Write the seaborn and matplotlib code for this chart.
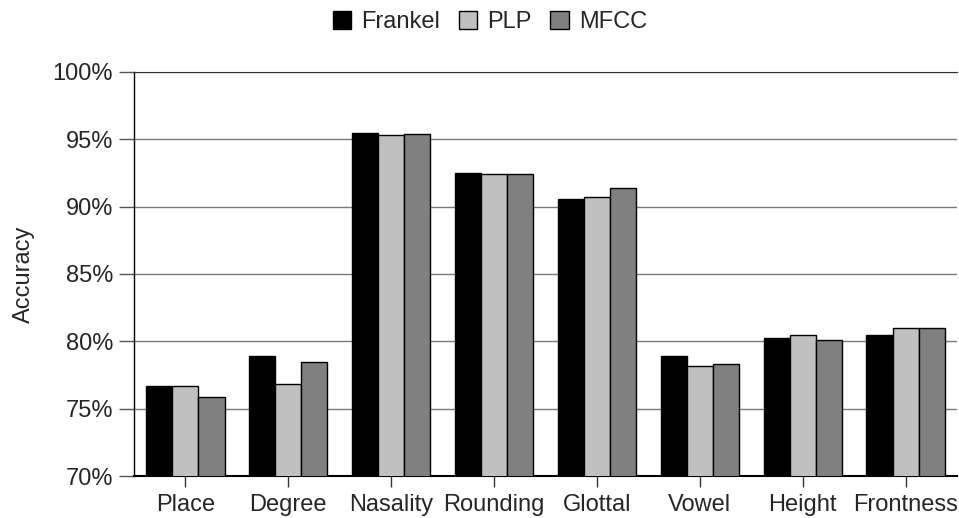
import matplotlib
matplotlib.use("Agg")
import matplotlib.pyplot as plt
import seaborn as sns
import pandas as pd
from matplotlib.ticker import PercentFormatter, MultipleLocator

categories = ["Place", "Degree", "Nasality", "Rounding", "Glottal", "Vowel", "Height", "Frontness"]
methods = ["Frankel", "PLP", "MFCC"]
frankel = [76.7, 78.9, 95.45, 92.5, 90.6, 78.9, 80.25, 80.5]
plp = [76.7, 76.8, 95.3, 92.4, 90.7, 78.15, 80.5, 81.0]
mfcc = [75.9, 78.5, 95.4, 92.4, 91.35, 78.3, 80.1, 81.0]
colors = ["#000000", "#c0c0c0", "#808080"]

rows = []
for m, vals in zip(methods, [frankel, plp, mfcc]):
    for c, v in zip(categories, vals):
        rows.append({"Category": c, "Method": m, "Accuracy": v})
df = pd.DataFrame(rows)

sns.set_style("white")
plt.rcParams["font.family"] = ["Liberation Sans", "DejaVu Sans"]
FS = 17

fig = plt.figure(figsize=(9.59, 5.18), dpi=100)
ax = fig.add_axes([134 / 959, 1 - 476 / 518, (957 - 134) / 959, (476 - 72) / 518])

sns.barplot(data=df, x="Category", y="Accuracy", hue="Method", order=categories,
            hue_order=methods, palette=colors, width=0.76, edgecolor="black",
            linewidth=1.0, saturation=1, ax=ax, zorder=3)

ax.set_ylim(70, 100)
ax.set_xlim(-0.5, 7.5)
ax.yaxis.set_major_locator(MultipleLocator(5))
ax.yaxis.set_major_formatter(PercentFormatter(decimals=0))
ax.grid(axis="y", color="#7a7a7a", linewidth=1.0, zorder=0)
ax.set_axisbelow(True)
ax.spines["right"].set_visible(False)
ax.spines["top"].set_color("#333333")
ax.spines["left"].set_color("black")
ax.spines["bottom"].set_color("black")
ax.spines["left"].set_linewidth(1.0)
ax.spines["bottom"].set_linewidth(1.5)
ax.tick_params(axis="y", which="major", direction="out", length=11, width=1,
               color="#555555", labelsize=FS, left=True, pad=4)
ax.tick_params(axis="x", which="major", direction="out", length=8, width=1,
               color="#333333", labelsize=FS, bottom=True, pad=5)
ax.set_xlabel("")
ax.set_ylabel("Accuracy", fontsize=FS, labelpad=13)

ax.get_legend().remove()
handles = [plt.Rectangle((0, 0), 1, 1, facecolor=c, edgecolor="black", linewidth=1.0) for c in colors]
fig.legend(handles, methods, loc="center", bbox_to_anchor=(490 / 959, 1 - 22 / 518),
           ncol=3, frameon=False, fontsize=FS, handlelength=0.78, handleheight=0.78,
           handletextpad=0.43, columnspacing=0.78, borderpad=0)

fig.savefig("out.png", dpi=100)
